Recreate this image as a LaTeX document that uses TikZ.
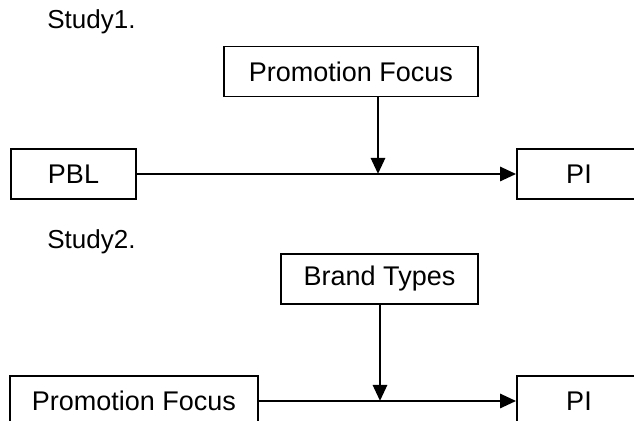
\documentclass[tikz,border=0pt]{standalone}
\usepackage{fontspec}
\setmainfont{Liberation Sans}
\usetikzlibrary{arrows.meta}

\begin{document}
\begin{tikzpicture}[x=0.5pt, y=-0.5pt, > = {Triangle[length=8pt,width=7pt]},
    box/.style = {draw, line width=0.85pt, inner sep=0pt, minimum height=25pt, font=\fontsize{13.5}{16}\selectfont},
    title/.style = {inner sep=0pt, anchor=base west, font=\fontsize{13}{15}\selectfont},
    link/.style = {line width=1.4pt, ->}]

    \useasboundingbox (0,0) rectangle (634,421);
    \clip (0,0) rectangle (634,421);

    % study 1
    \node[title] (s1) at (47,29) {Study1.};
    \node[box, minimum width=127pt] (pf1) at (351,71.5) {Promotion Focus};
    \node[box, minimum width=62.5pt] (pbl) at (73.5,174) {PBL};
    \node[box, minimum width=62pt] (pi1) at (579,174) {PI};
    \coordinate (j1) at (378,174);

    \draw[link] (pbl) -- (pi1);
    \draw[link] (pf1.south -| j1) -- (j1);

    % study 2
    \node[title] (s2) at (47,249) {Study2.};
    \node[box, minimum width=98.5pt] (bt) at (379.5,279) {Brand Types};
    \node[box, minimum width=124pt] (pf2) at (134,401) {Promotion Focus};
    \node[box, minimum width=62pt] (pi2) at (579,401) {PI};
    \coordinate (j2) at (380,401);

    \draw[link] (pf2) -- (pi2);
    \draw[link] (bt.south -| j2) -- (j2);

\end{tikzpicture}
\end{document}
